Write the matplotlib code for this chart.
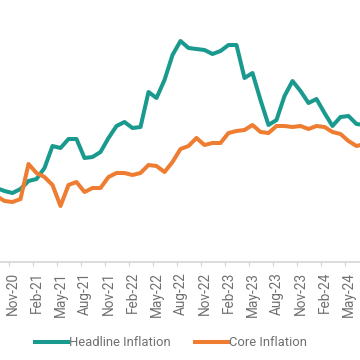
import matplotlib
matplotlib.use("Agg")
import matplotlib.pyplot as plt
import numpy as np
import pandas as pd

# monthly series, Sep-20 .. Jul-24
months = pd.date_range("2020-09-01", "2024-07-01", freq="MS")
headline = [3.70, 3.55, 3.45, 3.65, 4.05, 4.15, 4.70, 5.80, 5.70, 6.15,
            6.15, 5.20, 5.25, 5.50, 6.20, 6.80, 7.00, 6.70, 6.75, 8.50,
            8.20, 9.10, 10.35, 11.05, 10.70, 10.65, 10.60, 10.40, 10.55, 10.85,
            10.85, 9.20, 9.45, 8.10, 6.85, 7.10, 8.30, 9.05, 8.55, 7.95,
            8.15, 7.45, 6.80, 7.25, 7.30, 6.90, 6.85]
core = [3.30, 3.05, 3.00, 3.15, 4.90, 4.45, 4.25, 3.85, 2.80, 3.85,
        4.00, 3.50, 3.70, 3.70, 4.25, 4.45, 4.45, 4.35, 4.45, 4.85,
        4.80, 4.50, 5.00, 5.65, 5.80, 6.20, 5.85, 5.95, 5.95, 6.45,
        6.55, 6.60, 6.85, 6.50, 6.45, 6.80, 6.80, 6.75, 6.80, 6.65,
        6.80, 6.75, 6.50, 6.40, 6.05, 5.80, 5.90]
labels = [m.strftime("%b-%y") for m in months]

TEAL = "#1a9a8e"
ORANGE = "#ee7d31"
GREY = "#707070"

plt.rcParams["font.family"] = ["Roboto", "DejaVu Sans"]

fig = plt.figure(figsize=(3.6, 3.6), dpi=100)
# the chart is cropped: plot area runs past the left, right and top edges
ax = fig.add_axes([0, 1 - 262 / 360, 1, 262 / 360])

x = np.arange(len(months))
ax.plot(x, headline, color=TEAL, lw=2.9, solid_joinstyle="round",
        label="Headline Inflation")
ax.plot(x, core, color=ORANGE, lw=2.9, solid_joinstyle="round",
        label="Core Inflation")

# 8 px per month, Nov-20 centred at x = 12.5 px
ax.set_xlim(3.5 / 8, 363.5 / 8)
ax.set_ylim(0, 262 / 20)

lab_idx = x[2::3]
ax.set_xticks(lab_idx)
ax.set_xticklabels([labels[i] for i in lab_idx], rotation=90,
                   fontsize=9.8, color=GREY)
ax.set_xticks(lab_idx - 0.5, minor=True)
ax.tick_params(axis="x", which="major", length=0, pad=7)
ax.tick_params(axis="x", which="minor", length=3, width=0.8, color="#d0d0d0")
ax.set_yticks([])

for s in ["top", "left", "right"]:
    ax.spines[s].set_visible(False)
ax.spines["bottom"].set_color("#d6d6d6")
ax.spines["bottom"].set_linewidth(1.2)

fig.legend(loc="center", bbox_to_anchor=(0.475, 17 / 360), ncol=2,
           frameon=False, fontsize=9.4, handlelength=2.5,
           handletextpad=0.1, columnspacing=1.9, labelcolor=GREY)

fig.savefig("out.png", dpi=100)
